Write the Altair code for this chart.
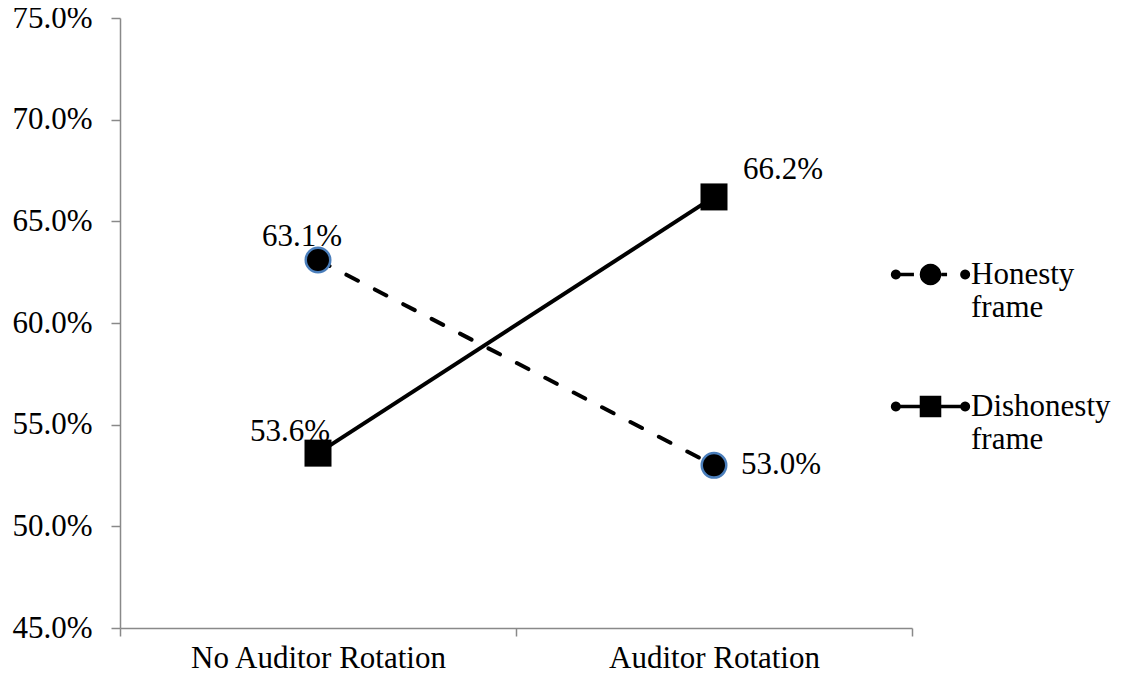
import math
import altair as alt
import pandas as pd

# ---- data ----
conditions = ["No Auditor Rotation", "Auditor Rotation"]
series_names = ["Honesty frame", "Dishonesty frame"]
honesty = [0.631, 0.530]
dishonesty = [0.536, 0.662]
y_ticks = [0.45, 0.50, 0.55, 0.60, 0.65, 0.70, 0.75]

rows = []
for i, c in enumerate(conditions):
    rows.append({"cond": c, "series": series_names[0], "value": honesty[i]})
    rows.append({"cond": c, "series": series_names[1], "value": dishonesty[i]})
df = pd.DataFrame(rows)

FONT = "Liberation Serif"
AXIS_GRAY = "#898989"
BLUE = "#4a7ebb"


# ---- legend symbol shapes (unit square -1..1) ----
def circ(cx, r, n=24):
    pts = []
    for k in range(n):
        a = 2 * math.pi * k / n
        pts.append(f"{cx + r * math.cos(a):.4f},{r * math.sin(a):.4f}")
    return "M" + "L".join(pts) + "Z"


def rect(x0, x1, h):
    return f"M{x0:.4f},{-h:.4f}L{x1:.4f},{-h:.4f}L{x1:.4f},{h:.4f}L{x0:.4f},{h:.4f}Z"


LW = 0.045
DOT = 0.13
path_h = (circ(-0.9, DOT) + rect(-0.9, -0.43, LW) + circ(0.0, 0.28)
          + rect(0.28, 0.43, LW) + circ(0.9, DOT))
path_d = (circ(-0.9, DOT) + rect(-0.9, -0.27, LW) + rect(-0.28, 0.28, 0.28)
          + rect(0.27, 0.9, LW) + circ(0.9, DOT))

x = alt.X(
    "cond:N",
    bandPosition=0.5,
    sort=conditions,
    scale=alt.Scale(type="band", domain=conditions, paddingInner=0, paddingOuter=0),
    axis=alt.Axis(
        title=None, labelAngle=0, tickBand="extent", grid=False,
        domainColor=AXIS_GRAY, domainWidth=1.5, tickColor=AXIS_GRAY, tickWidth=1.5,
        tickSize=8, labelFont=FONT, labelFontSize=31, labelColor="black",
        labelPadding=7, labelLimit=400,
    ),
)
y = alt.Y(
    "value:Q",
    scale=alt.Scale(domain=[0.45, 0.75], nice=False, zero=False),
    axis=alt.Axis(
        title=None, values=y_ticks, format=".1%", grid=False,
        domainColor=AXIS_GRAY, domainWidth=1.5, tickColor=AXIS_GRAY, tickWidth=1.5,
        tickSize=9, labelFont=FONT, labelFontSize=31, labelColor="black",
        labelPadding=19, labelLimit=400,
    ),
)

base = alt.Chart(df)

line_h = base.transform_filter(alt.datum.series == series_names[0]).mark_line(
    color="black", strokeWidth=4, strokeCap="round", strokeDash=[13, 19],
).encode(x=x, y=y)

line_d = base.transform_filter(alt.datum.series == series_names[1]).mark_line(
    color="black", strokeWidth=4,
).encode(x=x, y=y)

circles = base.transform_filter(alt.datum.series == series_names[0]).mark_point(
    shape="circle", filled=True, color="black", stroke=BLUE, strokeWidth=2.5,
    size=600, opacity=1,
).encode(x=x, y=y)

squares = base.transform_filter(alt.datum.series == series_names[1]).mark_point(
    shape="square", filled=True, color="black", size=729, opacity=1,
).encode(x=x, y=y)


def label(cond, series, dx, dy):
    return base.transform_filter(
        (alt.datum.cond == cond) & (alt.datum.series == series)
    ).mark_text(
        font=FONT, fontSize=31, color="black", dx=dx, dy=dy,
        align="center", baseline="middle",
    ).encode(x=x, y=y, text=alt.Text("value:Q", format=".1%"))


labels = [
    label(conditions[0], series_names[0], -16, -23),
    label(conditions[0], series_names[1], -28, -21),
    label(conditions[1], series_names[1], 69, -27),
    label(conditions[1], series_names[0], 67, 0),
]

legend_layer = base.mark_point(
    filled=True, color="black", size=5929, opacity=0,
).encode(
    x=x, y=y,
    shape=alt.Shape(
        "series:N",
        scale=alt.Scale(domain=series_names, range=[path_h, path_d]),
        legend=alt.Legend(
            title=None, orient="none", legendX=772, legendY=218,
            direction="vertical", padding=0,
            labelFont=FONT, labelFontSize=31, labelColor="black",
            labelExpr="split(datum.label, ' ')", labelOffset=2, labelLimit=400,
            labelBaseline="middle", rowPadding=45,
            symbolSize=5929, symbolFillColor="black", symbolStrokeWidth=0,
            symbolOpacity=1,
        ),
    ),
)

chart = alt.layer(line_h, line_d, circles, squares, *labels, legend_layer).properties(
    width=792, height=610,
    autosize=alt.AutoSizeParams(type="none"),
    padding={"left": 112, "top": 10, "right": 201, "bottom": 43},
).configure_view(stroke=None)

chart.save("out.html", embed_options={"renderer": "svg", "actions": False})
